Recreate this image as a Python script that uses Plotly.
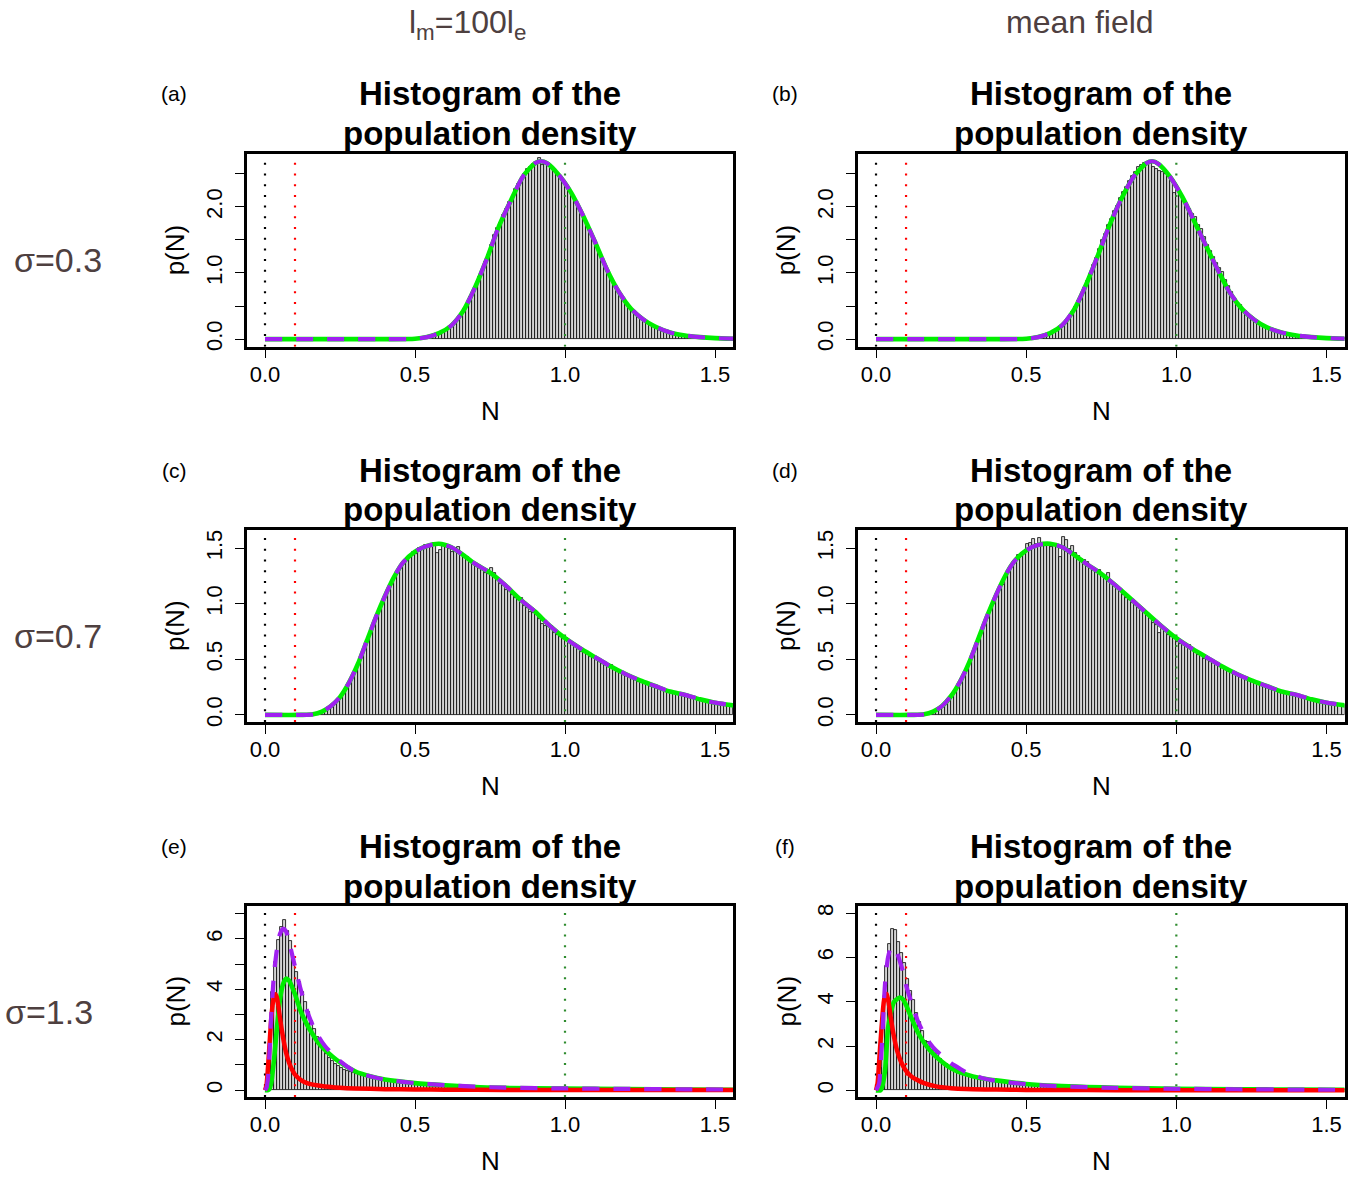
import plotly.graph_objects as go

W, H = 1357, 1180

# ---------------- data ----------------
bin_width = 0.01
ref_lines = [0.0, 0.1, 1.0]
ref_colors = ["#000000", "#FF0000", "#2E8B2E"]

x_ticks = [0.0, 0.5, 1.0, 1.5]
x_ticktext = ["0.0", "0.5", "1.0", "1.5"]

# panel (a)  l_m=100 l_e, sigma=0.3
a_bin_start = 0.53
a_bars = [0.02,0.03,0.04,0.06,0.08,0.10,0.12,0.15,0.18,0.22,
          0.27,0.31,0.38,0.46,0.52,0.63,0.73,0.81,0.94,1.04,
          1.16,1.27,1.42,1.57,1.68,1.75,1.88,1.97,2.08,2.13,
          2.27,2.35,2.41,2.49,2.57,2.60,2.65,2.66,2.74,2.63,
          2.66,2.62,2.59,2.56,2.51,2.46,2.41,2.31,2.27,2.17,
          2.11,1.99,1.92,1.81,1.74,1.62,1.53,1.40,1.32,1.19,
          1.11,0.99,0.92,0.82,0.76,0.66,0.61,0.53,0.49,0.43,
          0.40,0.34,0.31,0.29,0.24,0.22,0.20,0.17,0.16,0.14,
          0.12,0.11,0.10,0.09,0.08,0.07,0.06,0.05,0.05,0.04,
          0.04,0.03,0.03,0.02,0.02,0.02,0.01,0.01,0.01,0.01,
          0.01,0.01,0.01]
a_fit_x = [0, 0.4, 0.5, 0.54, 0.58, 0.62, 0.66, 0.70, 0.74, 0.78, 0.82, 0.86, 0.90, 0.92, 0.94,
           0.98, 1.02, 1.06, 1.10, 1.14, 1.18, 1.22, 1.26, 1.30, 1.35, 1.40, 1.45, 1.50, 1.563]
a_fit_y = [0, 0.0, 0.005, 0.03, 0.09, 0.20, 0.42, 0.78, 1.22, 1.71, 2.10, 2.46, 2.66, 2.69, 2.66,
           2.48, 2.22, 1.87, 1.47, 1.05, 0.71, 0.46, 0.30, 0.19, 0.10, 0.055, 0.03, 0.015, 0.006]
a_total_y = [0, 0.0, 0.005, 0.03, 0.09, 0.20, 0.42, 0.78, 1.22, 1.71, 2.10, 2.46, 2.66, 2.69, 2.66,
             2.48, 2.22, 1.87, 1.47, 1.05, 0.71, 0.46, 0.30, 0.19, 0.10, 0.055, 0.03, 0.015, 0.006]

# panel (b)  mean field, sigma=0.3
b_bin_start = 0.53
b_bars = [0.02,0.03,0.04,0.06,0.08,0.10,0.13,0.16,0.19,0.23,
          0.28,0.34,0.41,0.48,0.57,0.66,0.77,0.88,0.99,1.12,
          1.23,1.36,1.50,1.59,1.72,1.82,1.94,2.02,2.13,2.22,
          2.30,2.39,2.46,2.53,2.60,2.64,2.67,2.66,2.67,2.60,
          2.58,2.55,2.53,2.50,2.45,2.39,2.21,2.26,2.17,2.11,
          2.03,1.97,1.90,1.84,1.72,1.67,1.54,1.42,1.34,1.24,
          1.15,1.08,1.01,0.90,0.81,0.72,0.62,0.55,0.51,0.44,
          0.40,0.35,0.31,0.27,0.24,0.21,0.19,0.17,0.15,0.13,
          0.11,0.10,0.09,0.08,0.07,0.06,0.05,0.05,0.04,0.04,
          0.03,0.03,0.02,0.02,0.02,0.02,0.01,0.01,0.01,0.01,
          0.01,0.01,0.01]
b_fit_x = [0, 0.4, 0.5, 0.54, 0.58, 0.62, 0.66, 0.70, 0.74, 0.78, 0.82, 0.86, 0.90, 0.92, 0.94,
           0.98, 1.02, 1.06, 1.10, 1.14, 1.18, 1.22, 1.26, 1.30, 1.35, 1.40, 1.45, 1.50, 1.563]
b_fit_y = [0, 0.0, 0.005, 0.03, 0.09, 0.21, 0.45, 0.83, 1.28, 1.75, 2.15, 2.47, 2.66, 2.69, 2.65,
           2.45, 2.15, 1.78, 1.40, 1.03, 0.69, 0.45, 0.29, 0.18, 0.10, 0.055, 0.03, 0.015, 0.006]
b_total_y = [0, 0.0, 0.005, 0.03, 0.09, 0.21, 0.45, 0.83, 1.28, 1.75, 2.15, 2.47, 2.66, 2.69, 2.65,
             2.45, 2.15, 1.78, 1.40, 1.03, 0.69, 0.45, 0.29, 0.18, 0.10, 0.055, 0.03, 0.015, 0.006]

# panel (c)  l_m=100 l_e, sigma=0.7
c_bin_start = 0.17
c_bars = [0.01,0.02,0.03,0.04,0.06,0.08,0.11,0.13,0.17,0.20,
          0.25,0.29,0.34,0.41,0.47,0.52,0.61,0.66,0.75,0.80,
          0.89,0.94,1.02,1.06,1.14,1.18,1.25,1.28,1.34,1.36,
          1.41,1.42,1.47,1.45,1.50,1.49,1.53,1.52,1.53,1.55,
          1.46,1.48,1.52,1.51,1.49,1.47,1.50,1.51,1.44,1.42,
          1.42,1.38,1.37,1.35,1.33,1.30,1.28,1.27,1.32,1.28,
          1.22,1.18,1.17,1.12,1.13,1.08,1.05,1.03,1.05,0.98,
          0.96,0.93,0.92,0.93,0.86,0.82,0.80,0.80,0.80,0.74,
          0.72,0.70,0.68,0.69,0.66,0.64,0.61,0.60,0.57,0.56,
          0.55,0.52,0.52,0.49,0.48,0.46,0.45,0.46,0.45,0.40,
          0.39,0.38,0.36,0.36,0.34,0.32,0.33,0.30,0.30,0.28,
          0.28,0.26,0.26,0.24,0.25,0.23,0.22,0.21,0.20,0.21,
          0.19,0.18,0.17,0.16,0.16,0.15,0.14,0.14,0.13,0.13,
          0.12,0.11,0.12,0.10,0.10,0.09,0.09,0.09,0.08]
c_fit_x = [0, 0.12, 0.16, 0.19, 0.22, 0.25, 0.28, 0.31, 0.34, 0.37, 0.40, 0.43, 0.46, 0.50, 0.54,
           0.58, 0.62, 0.66, 0.70, 0.75, 0.80, 0.85, 0.90, 0.95, 1.00, 1.05, 1.10, 1.15, 1.20,
           1.25, 1.30, 1.35, 1.40, 1.45, 1.50, 1.563]
c_fit_y = [0, 0.0, 0.005, 0.03, 0.08, 0.16, 0.29, 0.46, 0.67, 0.88, 1.07, 1.24, 1.37, 1.47, 1.52,
           1.54, 1.51, 1.44, 1.36, 1.28, 1.17, 1.04, 0.93, 0.80, 0.69, 0.60, 0.52, 0.44, 0.37,
           0.31, 0.26, 0.21, 0.18, 0.14, 0.11, 0.085]
c_total_y = [0, 0.0, 0.005, 0.03, 0.08, 0.16, 0.29, 0.46, 0.67, 0.88, 1.07, 1.24, 1.37, 1.47, 1.52,
             1.54, 1.51, 1.44, 1.36, 1.28, 1.17, 1.04, 0.93, 0.80, 0.69, 0.60, 0.52, 0.44, 0.37,
             0.31, 0.26, 0.21, 0.18, 0.14, 0.11, 0.085]

# panel (d)  mean field, sigma=0.7
d_bin_start = 0.17
d_bars = [0.01,0.02,0.02,0.04,0.06,0.08,0.10,0.14,0.17,0.21,
          0.26,0.32,0.37,0.42,0.48,0.54,0.60,0.67,0.74,0.81,
          0.87,0.95,1.00,1.06,1.12,1.17,1.25,1.30,1.33,1.38,
          1.44,1.43,1.47,1.54,1.55,1.58,1.54,1.59,1.55,1.52,
          1.54,1.51,1.53,1.52,1.42,1.60,1.57,1.49,1.52,1.46,
          1.43,1.40,1.39,1.38,1.34,1.32,1.29,1.30,1.26,1.23,
          1.28,1.18,1.16,1.13,1.12,1.08,1.05,1.03,1.01,0.99,
          0.97,0.95,0.93,0.90,0.87,0.83,0.81,0.74,0.77,0.76,
          0.72,0.70,0.69,0.66,0.64,0.63,0.62,0.63,0.60,0.57,
          0.54,0.53,0.50,0.49,0.48,0.47,0.45,0.44,0.42,0.42,
          0.40,0.39,0.37,0.36,0.35,0.33,0.32,0.31,0.30,0.29,
          0.28,0.27,0.26,0.25,0.24,0.23,0.22,0.21,0.21,0.20,
          0.19,0.18,0.17,0.17,0.16,0.15,0.15,0.14,0.13,0.13,
          0.12,0.12,0.11,0.11,0.10,0.10,0.09,0.09,0.09]
d_fit_x = c_fit_x
d_fit_y = [0, 0.0, 0.005, 0.03, 0.08, 0.17, 0.30, 0.47, 0.68, 0.89, 1.08, 1.25, 1.38, 1.48, 1.53,
           1.54, 1.51, 1.44, 1.36, 1.27, 1.16, 1.04, 0.92, 0.80, 0.69, 0.60, 0.52, 0.44, 0.37,
           0.31, 0.26, 0.21, 0.18, 0.14, 0.11, 0.085]
d_total_y = [0, 0.0, 0.005, 0.03, 0.08, 0.17, 0.30, 0.47, 0.68, 0.89, 1.08, 1.25, 1.38, 1.48, 1.53,
             1.54, 1.51, 1.44, 1.36, 1.27, 1.16, 1.04, 0.92, 0.80, 0.69, 0.60, 0.52, 0.44, 0.37,
             0.31, 0.26, 0.21, 0.18, 0.14, 0.11, 0.085]

# panel (e)  l_m=100 l_e, sigma=1.3
e_bin_start = 0.0
e_bars = [0.20,1.60,3.90,5.10,5.95,6.45,6.73,6.30,5.90,5.25,
          4.68,4.29,3.90,3.50,3.10,2.75,2.42,2.09,1.83,1.63,
          1.43,1.27,1.15,1.04,0.95,0.88,0.82,0.76,0.71,0.67,
          0.63,0.60,0.57,0.55,0.52,0.50,0.48,0.46,0.44,0.42,
          0.40,0.38,0.36,0.35,0.33,0.32,0.31,0.29,0.28,0.27,
          0.26,0.25,0.24,0.23,0.22,0.22,0.21,0.20,0.19,0.19,
          0.18,0.18,0.17,0.17,0.16,0.16,0.15,0.15,0.14,0.14,
          0.13,0.13,0.13,0.12,0.12,0.12,0.11,0.11,0.11,0.10,
          0.10,0.10,0.10,0.09,0.09,0.09,0.09,0.08,0.08,0.08,
          0.08,0.08,0.07,0.07,0.07,0.07,0.07,0.07,0.06,0.06,
          0.06,0.06,0.06,0.06,0.06,0.05,0.05,0.05,0.05,0.05,
          0.05,0.05,0.05,0.05,0.04,0.04,0.04,0.04,0.04,0.04,
          0.04,0.04,0.04,0.04,0.04,0.04,0.03,0.03,0.03,0.03,
          0.03,0.03,0.03,0.03,0.03,0.03,0.03,0.03,0.03,0.03,
          0.03,0.03,0.03,0.02,0.02,0.02,0.02,0.02,0.02,0.02,
          0.02,0.02,0.02,0.02,0.02,0.02]
e_fit_x = [0, 0.01, 0.015, 0.02, 0.03, 0.04, 0.05, 0.06, 0.07, 0.08, 0.09, 0.10, 0.12, 0.14, 0.16,
           0.18, 0.20, 0.25, 0.30, 0.35, 0.40, 0.50, 0.60, 0.70, 0.80, 1.0, 1.2, 1.4, 1.563]
e_fit_y = [0, 0.0, 0.05, 0.25, 1.2, 2.5, 3.6, 4.2, 4.42, 4.35, 4.1, 3.8, 3.1, 2.6, 2.2,
           1.85, 1.6, 1.1, 0.75, 0.55, 0.42, 0.28, 0.19, 0.12, 0.09, 0.065, 0.045, 0.03, 0.02]
e_red_x = [0, 0.005, 0.01, 0.015, 0.02, 0.025, 0.03, 0.035, 0.04, 0.045, 0.05, 0.06, 0.07, 0.08,
           0.09, 0.10, 0.12, 0.14, 0.16, 0.20, 0.25, 0.30, 0.40, 0.50, 0.60, 0.80, 1.0, 1.563]
e_red_y = [0, 0.2, 0.9, 1.8, 2.7, 3.35, 3.72, 3.8, 3.65, 3.3, 2.85, 2.1, 1.5, 1.1,
           0.82, 0.62, 0.4, 0.28, 0.22, 0.15, 0.1, 0.07, 0.04, 0.03, 0.02, 0.01, 0.01, 0.005]
e_total_x = [0, 0.005, 0.01, 0.015, 0.02, 0.03, 0.04, 0.05, 0.06, 0.07, 0.08, 0.09, 0.10, 0.12,
             0.14, 0.16, 0.18, 0.20, 0.25, 0.30, 0.35, 0.40, 0.50, 0.60, 0.70, 0.80, 1.0, 1.2,
             1.4, 1.563]
e_total_y = [0, 0.1, 0.5, 1.5, 2.8, 4.6, 5.6, 6.2, 6.4, 6.3, 5.9, 5.4, 4.9, 3.95,
             3.15, 2.55, 2.1, 1.75, 1.15, 0.74, 0.55, 0.42, 0.28, 0.2, 0.14, 0.1, 0.07, 0.05,
             0.035, 0.025]

# panel (f)  mean field, sigma=1.3
f_bin_start = 0.0
f_bars = [0.10,1.00,3.60,5.60,6.60,7.30,7.25,6.70,6.22,5.77,
          5.02,4.50,4.10,3.50,3.07,2.69,2.24,2.16,1.94,1.79,
          1.64,1.42,1.28,1.20,1.12,1.05,0.97,0.90,0.84,0.78,
          0.73,0.68,0.64,0.60,0.57,0.54,0.51,0.48,0.46,0.44,
          0.42,0.40,0.38,0.36,0.35,0.33,0.32,0.31,0.29,0.28,
          0.27,0.26,0.25,0.24,0.23,0.22,0.21,0.21,0.20,0.19,
          0.18,0.18,0.17,0.17,0.16,0.16,0.15,0.15,0.14,0.14,
          0.13,0.13,0.13,0.12,0.12,0.12,0.11,0.11,0.11,0.10,
          0.10,0.10,0.10,0.09,0.09,0.09,0.09,0.08,0.08,0.08,
          0.08,0.08,0.07,0.07,0.07,0.07,0.07,0.07,0.06,0.06,
          0.06,0.06,0.06,0.06,0.06,0.05,0.05,0.05,0.05,0.05,
          0.05,0.05,0.05,0.05,0.04,0.04,0.04,0.04,0.04,0.04,
          0.04,0.04,0.04,0.04,0.04,0.04,0.03,0.03,0.03,0.03,
          0.03,0.03,0.03,0.03,0.03,0.03,0.03,0.03,0.03,0.03,
          0.03,0.03,0.03,0.02,0.02,0.02,0.02,0.02,0.02,0.02,
          0.02,0.02,0.02,0.02,0.02,0.02]
f_fit_x = [0, 0.015, 0.02, 0.03, 0.04, 0.05, 0.06, 0.07, 0.08, 0.09, 0.10, 0.12, 0.14, 0.16,
           0.18, 0.20, 0.25, 0.30, 0.35, 0.40, 0.50, 0.60, 0.70, 0.80, 1.0, 1.2, 1.4, 1.563]
f_fit_y = [0, 0.0, 0.15, 0.9, 2.8, 3.55, 4.0, 4.12, 4.19, 4.1, 3.85, 3.2, 2.6, 2.15,
           1.8, 1.52, 1.0, 0.72, 0.55, 0.45, 0.29, 0.2, 0.15, 0.12, 0.075, 0.05, 0.035, 0.025]
f_red_x = [0, 0.005, 0.01, 0.015, 0.02, 0.025, 0.03, 0.035, 0.04, 0.045, 0.05, 0.06, 0.07, 0.08,
           0.09, 0.10, 0.12, 0.14, 0.16, 0.20, 0.25, 0.30, 0.40, 0.50, 0.60, 0.80, 1.0, 1.563]
f_red_y = [0, 0.3, 1.2, 2.2, 3.1, 3.9, 4.3, 4.35, 4.1, 3.7, 3.2, 2.4, 1.8, 1.4,
           1.1, 0.88, 0.6, 0.45, 0.33, 0.18, 0.1, 0.06, 0.035, 0.02, 0.015, 0.01, 0.008, 0.005]
f_total_x = [0, 0.01, 0.015, 0.02, 0.025, 0.03, 0.04, 0.05, 0.06, 0.07, 0.08, 0.09, 0.10, 0.11,
             0.12, 0.14, 0.16, 0.18, 0.20, 0.22, 0.25, 0.28, 0.30, 0.35, 0.40, 0.50, 0.60, 0.80,
             1.0, 1.2, 1.4, 1.563]
f_total_y = [0, 0.3, 1.1, 2.2, 3.6, 4.8, 6.0, 6.45, 6.45, 6.2, 5.8, 5.35, 4.75, 4.3,
             3.9, 3.1, 2.55, 2.12, 1.8, 1.56, 1.22, 0.97, 0.82, 0.57, 0.43, 0.28, 0.19, 0.11,
             0.07, 0.05, 0.035, 0.025]

# y axes per panel (labelled ticks + unlabelled minor ticks)
y_ranges = {"a": [-0.115, 2.80], "b": [-0.115, 2.80], "c": [-0.064, 1.664],
            "d": [-0.064, 1.664], "e": [-0.27, 7.30], "f": [-0.30, 8.32]}
y_tickvals = {"a": [0, 1.0, 2.0], "b": [0, 1.0, 2.0],
              "c": [0, 0.5, 1.0, 1.5], "d": [0, 0.5, 1.0, 1.5],
              "e": [0, 2, 4, 6], "f": [0, 2, 4, 6, 8]}
y_ticktext = {"a": ["0.0", "1.0", "2.0"], "b": ["0.0", "1.0", "2.0"],
              "c": ["0.0", "0.5", "1.0", "1.5"], "d": ["0.0", "0.5", "1.0", "1.5"],
              "e": ["0", "2", "4", "6"], "f": ["0", "2", "4", "6", "8"]}
y_minorvals = {"a": [0.5, 1.5, 2.5], "b": [0.5, 1.5, 2.5], "c": [], "d": [],
               "e": [1, 3, 5, 7], "f": []}

col_headers = ["l<sub>m</sub>=100l<sub>e</sub>", "mean field"]
row_headers = ["σ=0.3", "σ=0.7", "σ=1.3"]
title_lines = ["Histogram of the", "population density"]

panels = [
    ("a", 0, 0, a_bin_start, a_bars, (a_fit_x, a_fit_y), None, (a_fit_x, a_total_y)),
    ("b", 0, 1, b_bin_start, b_bars, (b_fit_x, b_fit_y), None, (b_fit_x, b_total_y)),
    ("c", 1, 0, c_bin_start, c_bars, (c_fit_x, c_fit_y), None, (c_fit_x, c_total_y)),
    ("d", 1, 1, d_bin_start, d_bars, (d_fit_x, d_fit_y), None, (d_fit_x, d_total_y)),
    ("e", 2, 0, e_bin_start, e_bars, (e_fit_x, e_fit_y), (e_red_x, e_red_y), (e_total_x, e_total_y)),
    ("f", 2, 1, f_bin_start, f_bars, (f_fit_x, f_fit_y), (f_red_x, f_red_y), (f_total_x, f_total_y)),
]

# ---------------- layout geometry (pixels) ----------------
col_px = [(247, 733), (858, 1344.5)]
row_px = [(154, 346.7), (530, 722), (906, 1097)]
row_header_px = [(58, 260), (58, 636), (49, 1012)]
col_header_px = [(467, 2), (1080, 2)]
x_range = [-0.06, 1.56]

FONT = "Liberation Sans, Arial, Helvetica, sans-serif"
HEAD_COLOR = "#4E4040"


def xp(px):
    return px / W


def yp(py):
    return 1 - py / H


fig = go.Figure()
annotations = []

for i, (key, r, c, start, bars, fit, red, total) in enumerate(panels):
    n = "" if i == 0 else str(i + 1)
    xa, ya = "x" + n, "y" + n
    x0, x1 = col_px[c]
    y0, y1 = row_px[r]
    yr = y_ranges[key]

    centers = [start + (k + 0.5) * bin_width for k in range(len(bars))]
    fig.add_trace(go.Bar(x=centers, y=bars, width=bin_width, xaxis=xa, yaxis=ya,
                         marker=dict(color="#D4D4D4", line=dict(color="#000000", width=0.8)),
                         showlegend=False, hoverinfo="skip"))
    for v, col in zip(ref_lines, ref_colors):
        fig.add_trace(go.Scatter(x=[v, v], y=yr, mode="lines", xaxis=xa, yaxis=ya,
                                 line=dict(color=col, width=2.2, dash="2px,8.7px"),
                                 showlegend=False, hoverinfo="skip"))
    fig.add_trace(go.Scatter(x=fit[0], y=fit[1], mode="lines", xaxis=xa, yaxis=ya,
                             line=dict(color="#00EE00", width=4.6, shape="spline", smoothing=0.7),
                             showlegend=False, hoverinfo="skip"))
    if red is not None:
        fig.add_trace(go.Scatter(x=red[0], y=red[1], mode="lines", xaxis=xa, yaxis=ya,
                                 line=dict(color="#FF0000", width=4.5, shape="spline", smoothing=0.7),
                                 showlegend=False, hoverinfo="skip"))
    fig.add_trace(go.Scatter(x=total[0], y=total[1], mode="lines", xaxis=xa, yaxis=ya,
                             line=dict(color="#A020F0", width=4.2, dash="17px,14px",
                                       shape="spline", smoothing=0.7),
                             showlegend=False, hoverinfo="skip"))

    axis_common = dict(showline=True, linewidth=2.5, linecolor="#000000", mirror=True,
                       ticks="outside", ticklen=9, tickwidth=1.2, tickcolor="#000000",
                       showgrid=False, zeroline=False, automargin=False,
                       tickfont=dict(family=FONT, size=22, color="#000000"))
    fig.layout["xaxis" + n] = dict(domain=[xp(x0), xp(x1)], range=x_range, anchor=ya,
                                   tickvals=x_ticks, ticktext=x_ticktext,
                                   ticklabelstandoff=-3, **axis_common)
    ydict = dict(domain=[yp(y1), yp(y0)], range=yr, anchor=xa,
                 tickvals=y_tickvals[key], ticktext=y_ticktext[key],
                 tickangle=-90, ticklabelstandoff=4, **axis_common)
    if y_minorvals[key]:
        ydict["minor"] = dict(tickmode="array", tickvals=y_minorvals[key], ticks="outside",
                              ticklen=9, tickwidth=1.2, tickcolor="#000000", showgrid=False)
    fig.layout["yaxis" + n] = ydict

    cx = (x0 + x1) / 2
    cy = (y0 + y1) / 2
    # titles
    annotations.append(dict(text="<b>" + title_lines[0] + "</b>", x=xp(cx), y=yp(y0 - 60),
                            yanchor="middle",
                            font=dict(family=FONT, size=33, color="#000000")))
    annotations.append(dict(text="<b>" + title_lines[1] + "</b>", x=xp(cx), y=yp(y0 - 20),
                            yanchor="middle",
                            font=dict(family=FONT, size=33, color="#000000")))
    # panel letter
    annotations.append(dict(text="(" + key + ")", x=xp(x0 - 73), y=yp(y0 - 60),
                            yanchor="middle",
                            font=dict(family=FONT, size=21, color="#000000")))
    # axis titles
    annotations.append(dict(text="N", x=xp(cx), y=yp(y1 + 64), yanchor="middle",
                            font=dict(family=FONT, size=26, color="#000000")))
    annotations.append(dict(text="p(N)", x=xp(x0 - 72), y=yp(cy), textangle=-90,
                            yanchor="middle",
                            font=dict(family=FONT, size=26, color="#000000")))

# column headers (anchored by their top edge, kept inside the page)
for txt, (hx, hy) in zip(col_headers, col_header_px):
    annotations.append(dict(text=txt, x=xp(hx), y=yp(hy), yanchor="top",
                            font=dict(family=FONT, size=32, color=HEAD_COLOR)))
# row headers
for txt, (hx, hy) in zip(row_headers, row_header_px):
    annotations.append(dict(text=txt, x=xp(hx), y=yp(hy), yanchor="middle",
                            font=dict(family=FONT, size=34, color=HEAD_COLOR)))

for a in annotations:
    a.update(xref="paper", yref="paper", showarrow=False, xanchor="center")

fig.update_layout(width=W, height=H, margin=dict(l=0, r=0, t=0, b=0, pad=0, autoexpand=False),
                  paper_bgcolor="#FFFFFF", plot_bgcolor="#FFFFFF",
                  bargap=0, barmode="overlay", annotations=annotations,
                  font=dict(family=FONT))

fig.write_html("out.html")
